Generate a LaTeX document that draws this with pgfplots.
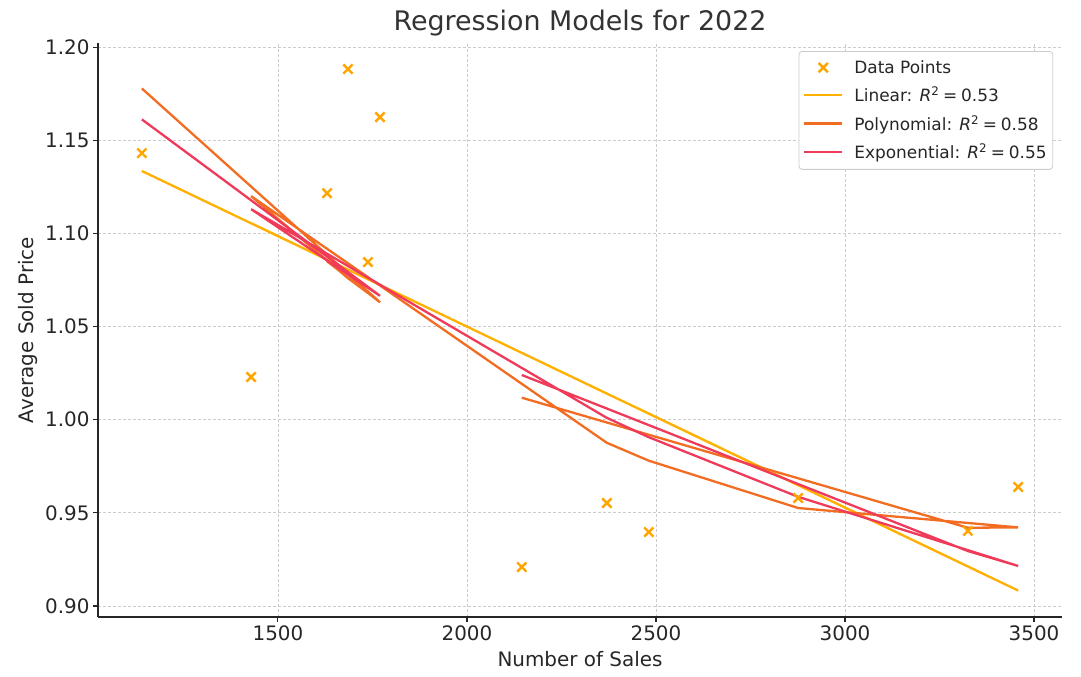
\documentclass[border=0pt]{standalone}
\usepackage{pgfplots}
\pgfplotsset{compat=1.18}
\usepackage{fontspec}
\setmainfont{DejaVu Sans}
\definecolor{cpt}{HTML}{FFA500}
\definecolor{clin}{HTML}{FFB000}
\definecolor{cpoly}{HTML}{F26C22}
\definecolor{cexp}{HTML}{F03A5A}
\definecolor{cgrid}{HTML}{CCCCCC}
\definecolor{ctext}{HTML}{262626}
\definecolor{ctitle}{HTML}{333333}
\begin{document}
\begin{tikzpicture}
\begin{axis}[
  at={(0,0)}, anchor=south west,
  scale only axis, width=964bp, height=574bp,
  xmin=1024, xmax=3574, ymin=0.8941, ymax=1.2022,
  axis lines=left,
  axis line style={line width=1.1bp, -, ctext},
  xtick={1500,2000,2500,3000,3500},
  ytick={0.90,0.95,1.00,1.05,1.10,1.15,1.20},
  tick align=outside, major tick length=5bp,
  tick style={line width=1.1bp, ctext},
  grid=major,
  grid style={dash pattern=on 3bp off 2bp, cgrid, line width=0.8bp},
  /pgf/number format/assume math mode=true,
  ticklabel style={font=\fontsize{20}{24}\selectfont, text=ctext},
  yticklabel style={/pgf/number format/.cd, fixed, fixed zerofill, precision=2},
  xticklabel style={/pgf/number format/1000 sep={}},
  xlabel={Number of Sales}, ylabel={Average Sold Price},
  label style={font=\fontsize{20}{24}\selectfont, text=ctext},
  xlabel style={at={(axis description cs:0.5,-0.0855)}, anchor=base},
  ylabel style={at={(axis description cs:-0.0671,0.5)}, anchor=base},
  title={Regression Models for 2022},
  title style={at={(axis description cs:0.5,1.0105)}, anchor=base, font=\fontsize{27}{32}\selectfont, text=ctitle},
  legend style={at={(0.9907,0.986)}, anchor=north east, draw=cgrid, line width=0.8bp,
    rounded corners=3bp, fill=white, font=\fontsize{17}{20}\selectfont, text=ctext,
    inner xsep=4bp, inner ysep=7bp, row sep=8bp,
    cells={anchor=west}},
  legend cell align=left,
]
% data points
\addplot[only marks, mark=x, mark size=6.5bp, mark options={line width=2.4bp}, color=cpt,
  legend image code/.code={\draw[mark=x, mark size=6.5bp, mark options={line width=2.4bp, cpt}] plot coordinates {(19bp,0bp)}; \path (0bp,0bp) (47bp,0bp);}]
  coordinates {
  (1140,1.1431) (1770,1.1624) (1630,1.1216) (1738,1.0846) (1685,1.1882) (1429,1.0229)
  (2370,0.9553) (2481,0.9397) (2876,0.9580) (3458,0.9639) (3325,0.9403) (2145,0.9209)
  };
\addlegendentry{Data Points}
% linear
\addplot[color=clin, line width=2.3bp, no markers,
  legend image code/.code={\draw[clin, line width=2.3bp] (0bp,0bp) -- (38bp,0bp); \path (47bp,0bp);}]
  coordinates {
  (1140,1.1335) (1770,1.0723) (1630,1.0859) (1738,1.0754) (1685,1.0806) (1429,1.1055)
  (2370,1.0140) (2481,1.0033) (2876,0.9649) (3458,0.9083) (3325,0.9212) (2145,1.0359)
  };
\addlegendentry{Linear: \textit{R}\textsuperscript{2}\:=\:0.53}
% polynomial
\addplot[color=cpoly, line width=2.3bp, no markers,
  legend image code/.code={\draw[cpoly, line width=2.3bp] (0bp,0bp) -- (38bp,0bp); \path (47bp,0bp);}]
  coordinates {
  (1140,1.1778) (1770,1.0630) (1630,1.0850) (1738,1.0680) (1685,1.0760) (1429,1.1200)
  (2370,0.9876) (2481,0.9780) (2876,0.9526) (3458,0.9422) (3325,0.9420) (2145,1.0118)
  };
\addlegendentry{Polynomial: \textit{R}\textsuperscript{2}\:=\:0.58}
% exponential
\addplot[color=cexp, line width=2.3bp, no markers,
  legend image code/.code={\draw[cexp, line width=2.3bp] (0bp,0bp) -- (38bp,0bp); \path (47bp,0bp);}]
  coordinates {
  (1140,1.1612) (1770,1.0665) (1630,1.0854) (1738,1.0711) (1685,1.0780) (1429,1.1130)
  (2370,1.0010) (2481,0.9906) (2876,0.9586) (3458,0.9215) (3325,0.9295) (2145,1.0240)
  };
\addlegendentry{Exponential: \textit{R}\textsuperscript{2}\:=\:0.55}
\node[anchor=base west, font=\fontsize{20}{24}\selectfont, text=ctext] at (axis description cs:0,1.0192) {1e6};
\end{axis}
\pgfresetboundingbox
\path[use as bounding box] (-98bp,-60bp) rectangle (983bp,617bp);
\end{tikzpicture}
\end{document}
